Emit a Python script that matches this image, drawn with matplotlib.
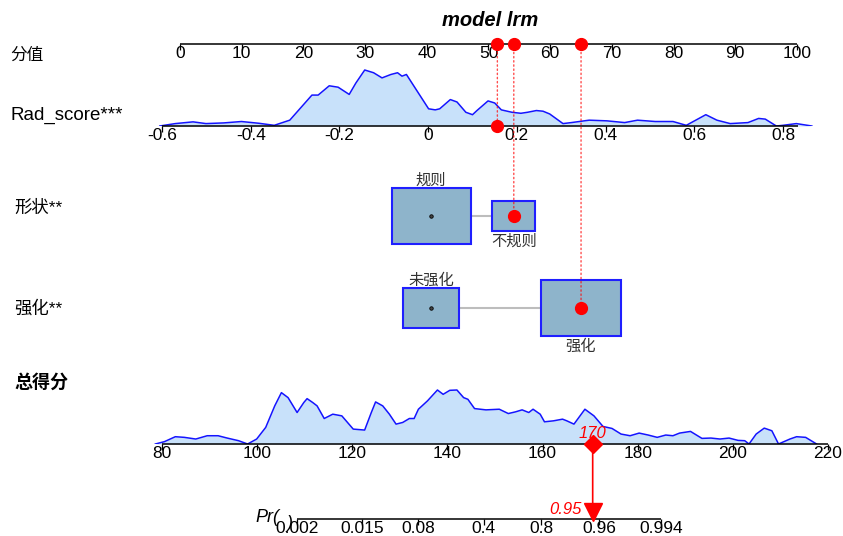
import numpy as np
import matplotlib
matplotlib.use('Agg')
import matplotlib.pyplot as plt
from matplotlib.patches import Rectangle, ConnectionPatch
from matplotlib.ticker import NullLocator

plt.rcParams['font.family'] = ['Liberation Sans', 'Noto Sans CJK SC']

# ---- data ----
pts_ticks = [0, 10, 20, 30, 40, 50, 60, 70, 80, 90, 100]

rad_ticks = [-0.6, -0.4, -0.2, 0, 0.2, 0.4, 0.6, 0.8]
rad_tick_labels = ['-0.6', '-0.4', '-0.2', '0', '0.2', '0.4', '0.6', '0.8']
rad_range = [-0.6, 0.834]
rad_coef = [40.22, 71.89]   # points = a + b * Rad_score
rad_x = [-0.605, -0.570, -0.530, -0.501, -0.461, -0.421, -0.382, -0.347, -0.312, -0.262,
         -0.248, -0.223, -0.203, -0.178, -0.163, -0.143, -0.123, -0.104, -0.084, -0.069,
         -0.059, -0.049, -0.034, 0.001, 0.016, 0.026, 0.050, 0.065, 0.085, 0.100,
         0.110, 0.135, 0.150, 0.165, 0.189, 0.209, 0.224, 0.244, 0.259, 0.274,
         0.304, 0.323, 0.363, 0.403, 0.443, 0.472, 0.512, 0.552, 0.582, 0.626,
         0.651, 0.681, 0.721, 0.745, 0.760, 0.785, 0.800, 0.830, 0.865]
rad_dens = [0.0, 0.043, 0.074, 0.043, 0.055, 0.080, 0.049, 0.012, 0.104, 0.552,
            0.552, 0.718, 0.693, 0.564, 0.767, 1.0, 0.951, 0.859, 0.920, 0.951,
            0.890, 0.920, 0.736, 0.307, 0.288, 0.307, 0.472, 0.429, 0.245, 0.202,
            0.276, 0.448, 0.411, 0.288, 0.245, 0.227, 0.245, 0.276, 0.264, 0.215,
            0.043, 0.061, 0.104, 0.092, 0.061, 0.104, 0.080, 0.080, 0.012, 0.202,
            0.104, 0.043, 0.061, 0.135, 0.123, 0.0, 0.012, 0.043, 0.0]

shape_levels = ['规则', '不规则']
shape_points = [40.7, 54.1]
shape_n = [120, 35]

enh_levels = ['未强化', '强化']
enh_points = [40.7, 65.0]
enh_n = [60, 123]

tot_ticks = [80, 100, 120, 140, 160, 180, 200, 220]
tot_x = [78.6, 80.5, 82.8, 84.7, 87.1, 89.5, 91.8, 93.7, 96.1, 98.0,
         99.9, 101.8, 103.7, 105.1, 106.5, 108.4, 109.8, 110.5, 111.7, 112.6,
         114.1, 115.9, 117.8, 120.2, 122.6, 124.0, 124.9, 126.4, 127.8, 129.2,
         130.6, 132.0, 133.0, 133.9, 135.8, 137.9, 139.1, 140.5, 142.0, 143.4,
         144.3, 145.7, 148.1, 150.9, 152.8, 154.3, 155.7, 157.1, 158.0, 159.5,
         160.4, 162.3, 164.2, 165.1, 166.6, 168.9, 170.8, 172.7, 174.6, 176.5,
         178.4, 180.3, 182.2, 184.1, 185.9, 187.4, 188.8, 191.1, 193.5, 195.4,
         197.3, 199.2, 201.1, 202.5, 203.4, 204.9, 206.6, 208.2, 209.6, 212.0,
         213.4, 215.3, 217.6]
tot_dens = [0.0, 0.043, 0.135, 0.123, 0.092, 0.153, 0.153, 0.110, 0.061, 0.0,
            0.092, 0.307, 0.706, 0.951, 0.859, 0.583, 0.767, 0.840, 0.767, 0.706,
            0.472, 0.552, 0.521, 0.276, 0.258, 0.583, 0.779, 0.706, 0.552, 0.368,
            0.399, 0.472, 0.472, 0.644, 0.798, 1.0, 0.920, 0.994, 1.0, 0.859,
            0.828, 0.656, 0.632, 0.644, 0.564, 0.595, 0.632, 0.583, 0.644, 0.552,
            0.411, 0.429, 0.460, 0.429, 0.368, 0.644, 0.521, 0.325, 0.288, 0.184,
            0.153, 0.202, 0.166, 0.123, 0.166, 0.153, 0.202, 0.233, 0.104, 0.110,
            0.092, 0.110, 0.067, 0.061, 0.0, 0.184, 0.294, 0.245, 0.0, 0.092,
            0.135, 0.123, 0.0]

pr_ticks = [0.002, 0.015, 0.08, 0.4, 0.8, 0.96, 0.994]
pr_tick_labels = ['0.002', '0.015', '0.08', '0.4', '0.8', '0.96', '0.994']
logit_coef = [-22.256, 0.148]   # logit(p) = b0 + b1 * total

# observation shown in red
obs_rad = 0.156
obs_shape = '不规则'
obs_enh = '强化'

# ---- layout helpers (pixel positions) ----
W, H = 843, 536
L, R = 150, 838
fig = plt.figure(figsize=(W / 100, H / 100), dpi=100)


def row_ax(base, height):
    ax = fig.add_axes([L / W, 1 - base / H, (R - L) / W, height / H])
    ax.patch.set_visible(False)
    for sp in ax.spines.values():
        sp.set_visible(False)
    ax.set_yticks([])
    return ax


def xlim_for(v0, px0, v1, px1):
    s = (v1 - v0) / (px1 - px0)
    return v0 + (L - px0) * s, v0 + (R - px0) * s


def scale_axis(ax, ticks, labels, lo, hi):
    ax.set_xticks(ticks)
    ax.set_xticklabels(labels)
    ax.tick_params(axis='x', length=4, width=0.9, pad=-2.5, labelsize=12.5)
    ax.hlines(0, lo, hi, color='black', lw=1.1, clip_on=False)


fill_c = '#c8e1fa'
line_c = '#1414ff'
box_fc = '#8eb4cb'
box_ec = '#1f1fff'

# points row
ax_p = row_ax(44, 12)
ax_p.set_xlim(xlim_for(0, 180, 100, 797))
ax_p.set_ylim(0, 12)
scale_axis(ax_p, pts_ticks, [str(t) for t in pts_ticks], pts_ticks[0], pts_ticks[-1])
pts_lim = ax_p.get_xlim()
px_per_pt = (R - L) / (pts_lim[1] - pts_lim[0])

# Rad_score row
a, b = rad_coef
ax_r = row_ax(126, 60)
ax_r.set_xlim((pts_lim[0] - a) / b, (pts_lim[1] - a) / b)
ax_r.set_ylim(0, max(rad_dens) * 60 / 56)
ax_r.fill_between(rad_x, 0, rad_dens, color=fill_c, lw=0)
ax_r.plot(rad_x, rad_dens, color=line_c, lw=1.1)
scale_axis(ax_r, rad_ticks, rad_tick_labels, rad_range[0], rad_range[1])


# categorical rows
def cat_row(center, levels, points, counts):
    ax = row_ax(center + 45, 90)
    ax.set_xlim(pts_lim)
    ax.set_ylim(-45, 45)
    ax.set_xticks([])
    ax.plot([min(points), max(points)], [0, 0], color='#bdbdbd', lw=1.5, zorder=1)
    for i, (lev, p, n) in enumerate(zip(levels, points, counts)):
        side = 7.21 * np.sqrt(n)
        w = side / px_per_pt
        h = 0.70 * side
        ax.add_patch(Rectangle((p - w / 2, -h / 2), w, h, fc=box_fc, ec=box_ec,
                               lw=1.5, zorder=2))
        if i == 0:
            ax.plot(p, 0, 'o', ms=2.5, mfc='#444444', mec='black', mew=0.6, zorder=3)
            ax.text(p, h / 2 + 1, lev, ha='center', va='bottom', fontsize=11,
                    color='#333333')
        else:
            ax.text(p, -h / 2 - 3, lev, ha='center', va='top', fontsize=11,
                    color='#333333')
    return ax


ax_s = cat_row(216, shape_levels, shape_points, shape_n)
ax_e = cat_row(308, enh_levels, enh_points, enh_n)

# total points row
ax_t = row_ax(444, 60)
ax_t.set_xlim(xlim_for(80, 162, 220, 828))
ax_t.set_ylim(0, max(tot_dens) * 60 / 54)
ax_t.fill_between(tot_x, 0, tot_dens, color=fill_c, lw=0)
ax_t.plot(tot_x, tot_dens, color=line_c, lw=1.1)
scale_axis(ax_t, tot_ticks, [str(t) for t in tot_ticks], tot_ticks[0], tot_ticks[-1])
tot_lim = np.array(ax_t.get_xlim())

# probability row (logit scale driven by the total points)
b0, b1 = logit_coef
ax_pr = row_ax(519, 14)
ax_pr.set_xscale('logit')
ax_pr.set_xlim(1 / (1 + np.exp(-(b0 + b1 * tot_lim))))
ax_pr.set_ylim(0, 14)
scale_axis(ax_pr, pr_ticks, pr_tick_labels, pr_ticks[0], pr_ticks[-1])
ax_pr.xaxis.set_minor_locator(NullLocator())

# ---- observation ----
obs_pts = [a + b * obs_rad,
           shape_points[shape_levels.index(obs_shape)],
           enh_points[enh_levels.index(obs_enh)]]
total = sum(obs_pts)
prob = 1 / (1 + np.exp(-(b0 + b1 * total)))

targets = [(ax_r, obs_rad), (ax_s, obs_pts[1]), (ax_e, obs_pts[2])]
for p, (ax, v) in zip(obs_pts, targets):
    con = ConnectionPatch(xyA=(p, 0), coordsA=ax_p.transData, xyB=(v, 0),
                          coordsB=ax.transData, color='red', ls=(0, (1, 2)),
                          lw=1.0, alpha=0.7)
    fig.add_artist(con)
    ax.plot(v, 0, 'o', color='red', ms=8.5, clip_on=False, zorder=6)
ax_p.plot(obs_pts, [0] * 3, 'o', color='red', ms=8.5, clip_on=False, zorder=6)

ax_t.plot(total, 0, 'D', color='red', ms=9, clip_on=False, zorder=6)
ax_t.annotate(f'{int(total)}', (total, 0), xytext=(0, 2), textcoords='offset points',
              ha='center', va='bottom', color='red', style='italic', fontsize=12)
con = ConnectionPatch(xyA=(total, 0), coordsA=ax_t.transData, xyB=(prob, 7),
                      coordsB=ax_pr.transData, color='red', lw=1.2)
fig.add_artist(con)
ax_pr.plot(prob, 7, 'v', color='red', ms=13, clip_on=False, zorder=6)
ax_pr.annotate(f'{prob:.2f}', (prob, 7), xytext=(-8, 2), textcoords='offset points',
               ha='right', va='center', color='red', style='italic', fontsize=12)

# ---- labels ----
fig.text(490 / W, 1 - 20 / H, 'model lrm', ha='center', va='center', fontsize=14.5,
         weight='bold', style='italic')
fig.text(10 / W, 1 - 55 / H, '分值', va='center', fontsize=12)
fig.text(10 / W, 1 - 115 / H, 'Rad_score***', va='center', fontsize=13.5)
fig.text(14 / W, 1 - 208 / H, '形状**', va='center', fontsize=12.5)
fig.text(14 / W, 1 - 308 / H, '强化**', va='center', fontsize=12.5)
fig.text(14 / W, 1 - 383 / H, '总得分', va='center', fontsize=13, weight='bold')
fig.text(255 / W, 1 - 517 / H, 'Pr(', va='center', fontsize=13, style='italic')
fig.text(287 / W, 1 - 523 / H, ')', va='center', fontsize=13, style='italic')

fig.savefig('out.png', dpi=100)
